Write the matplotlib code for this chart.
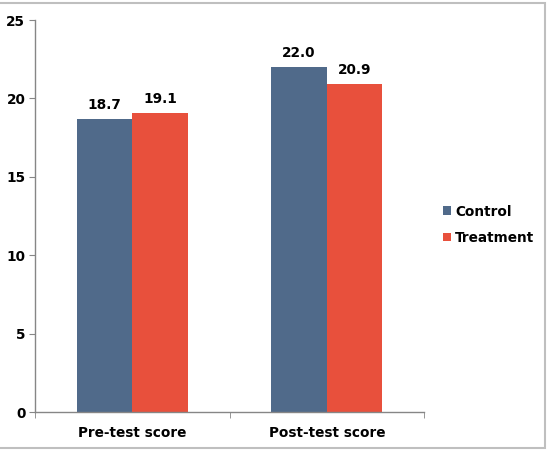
import numpy as np
import matplotlib.pyplot as plt
from matplotlib.patches import Rectangle

# Data
categories = ["Pre-test score", "Post-test score"]
control = [18.7, 22.0]
treatment = [19.1, 20.9]
series_names = ["Control", "Treatment"]
colors = ["#506A8A", "#E8503C"]

plt.rcParams['font.family'] = ['DejaVu Sans']
plt.rcParams['font.weight'] = 'bold'

fig = plt.figure(figsize=(5.5, 4.7), dpi=100)
ax = fig.add_axes([0.0636, 0.1234, 0.7074, 0.834])

x = np.arange(len(categories))
w = 0.285
b1 = ax.bar(x - w / 2, control, w, color=colors[0], label=series_names[0])
b2 = ax.bar(x + w / 2, treatment, w, color=colors[1], label=series_names[1])

# value labels
for bars, vals in [(b1, control), (b2, treatment)]:
    for rect, v in zip(bars, vals):
        ax.annotate("%.1f" % v, (rect.get_x() + rect.get_width() / 2, v),
                    xytext=(0, 5), textcoords="offset points",
                    ha="center", va="bottom", fontsize=9.8, fontweight="bold")

ax.set_xlim(-0.5, 1.5)
ax.set_ylim(0, 25)
ax.set_yticks(range(0, 26, 5))
ax.set_xticks(x)
ax.set_xticklabels(categories)
ax.set_xticks([-0.5, 0.5, 1.5], minor=True)
ax.tick_params(axis="x", which="major", length=0, pad=10, labelsize=9.8)
ax.tick_params(axis="x", which="minor", length=4, color="#868686")
ax.tick_params(axis="y", length=4, color="#868686", pad=3, labelsize=9.8)

for s in ["top", "right"]:
    ax.spines[s].set_visible(False)
for s in ["left", "bottom"]:
    ax.spines[s].set_color("#868686")
    ax.spines[s].set_linewidth(1.0)

leg = fig.legend(loc="center left", bbox_to_anchor=(0.783, 0.522), frameon=False,
                 handlelength=0.6, handleheight=0.6, handletextpad=0.3,
                 labelspacing=0.9, fontsize=9.8)

# outer chart border
fig.patches.append(Rectangle((-0.01, 0.047), 1.001, 0.9466, transform=fig.transFigure,
                             fill=False, edgecolor="#BFBFBF", linewidth=1.5))

fig.savefig("out.png", dpi=100)
